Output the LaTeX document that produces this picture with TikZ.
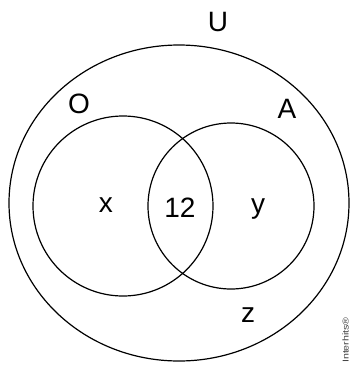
\documentclass[tikz,border=0pt]{standalone}
\usepackage{fontspec}
\setmainfont{Liberation Sans}
\begin{document}
\begin{tikzpicture}[x=1pt,y=-1pt,
  set/.style={draw=black,line width=1.2pt},
  lbl/.style={font=\fontsize{28}{30}\selectfont,inner sep=0pt,anchor=center}]
\useasboundingbox[fill=white] (0,0) rectangle (350,365);
\draw[set] (179,203) ellipse [x radius=170, y radius=158];
\draw[set] (123,206) circle [radius=90];
\draw[set] (231,206) circle [radius=83];
\node[lbl] (U) at (218,22) {U};
\node[lbl] (O) at (79,104) {O};
\node[lbl] (A) at (287,109) {A};
\node[lbl] (x) at (106,205) {x};
\node[lbl] (n12) at (180,208) {12};
\node[lbl] (y) at (258,209) {y};
\node[lbl] (z) at (248,315) {z};
\node[inner sep=0pt,text=black!75] (wm) at (345.5,340) {\rotatebox{90}{\scalebox{1.25}[1]{\fontsize{8.5}{9}\selectfont Interhits®}}};
\end{tikzpicture}
\end{document}
